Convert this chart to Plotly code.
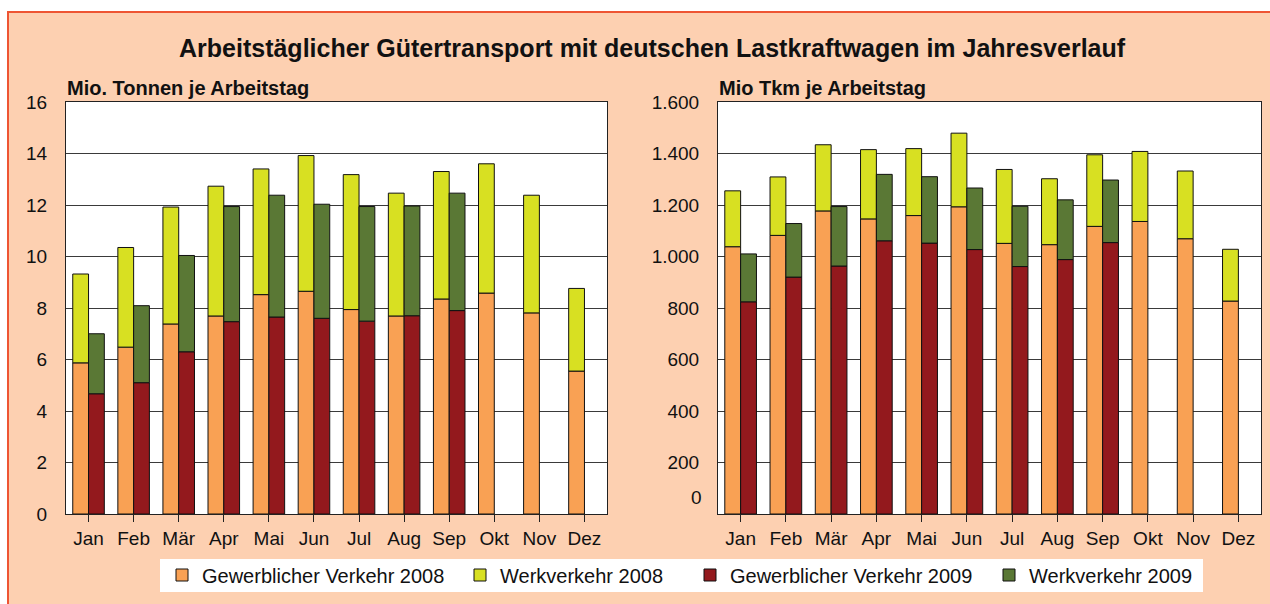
import plotly.graph_objects as go

months = ["Jan", "Feb", "Mär", "Apr", "Mai", "Jun", "Jul", "Aug", "Sep", "Okt", "Nov", "Dez"]
months_2009 = months[:9]

# Mio. Tonnen je Arbeitstag
t_gew_2008 = [5.87, 6.48, 7.38, 7.69, 8.52, 8.65, 7.94, 7.69, 8.35, 8.58, 7.81, 5.55]
t_werk_2008 = [3.45, 3.87, 4.54, 5.04, 4.88, 5.27, 5.24, 4.77, 4.95, 5.02, 4.57, 3.21]
t_gew_2009 = [4.67, 5.10, 6.30, 7.47, 7.65, 7.60, 7.49, 7.70, 7.90]
t_werk_2009 = [2.33, 2.99, 3.74, 4.47, 4.73, 4.43, 4.45, 4.26, 4.56]

# Mio Tkm je Arbeitstag
k_gew_2008 = [1038, 1082, 1177, 1146, 1159, 1193, 1051, 1046, 1117, 1136, 1069, 827]
k_werk_2008 = [217, 227, 257, 269, 260, 286, 287, 256, 278, 272, 263, 201]
k_gew_2009 = [824, 920, 963, 1061, 1052, 1027, 961, 988, 1054]
k_werk_2009 = [186, 208, 231, 258, 258, 239, 234, 232, 243]

names = ["Gewerblicher Verkehr 2008", "Werkverkehr 2008",
         "Gewerblicher Verkehr 2009", "Werkverkehr 2009"]
colors = ["#F9A154", "#D8E022", "#93191D", "#5A7835"]

title_text = "Arbeitstäglicher Gütertransport mit deutschen Lastkraftwagen im Jahresverlauf"
sub_left = "Mio. Tonnen je Arbeitstag"
sub_right = "Mio Tkm je Arbeitstag"

W, H = 1270, 604
FONT = "Liberation Sans, Arial, sans-serif"
PEACH = "#FDD0B1"


def px_x(p):
    return p / W


def px_y(p):
    return 1 - p / H


legend_ids = ["legend", "legend2", "legend3", "legend4"]
legend_x = [162, 460, 690, 989]

fig = go.Figure()


def add_chart(xa, ya, g08, w08, g09, w09, show):
    sets = [
        (months, g08, None, "a", 0),
        (months, w08, g08, "a", 1),
        (months_2009, g09, None, "b", 2),
        (months_2009, w09, g09, "b", 3),
    ]
    for xs, ys, base, grp, k in sets:
        fig.add_trace(go.Bar(
            x=xs, y=ys, base=base, offsetgroup=grp, name=names[k],
            legendgroup=names[k], showlegend=show, legend=legend_ids[k],
            marker=dict(color=colors[k], line=dict(color="#111111", width=1)),
            xaxis=xa, yaxis=ya,
        ))


add_chart("x", "y", t_gew_2008, t_werk_2008, t_gew_2009, t_werk_2009, True)
add_chart("x2", "y2", k_gew_2008, k_werk_2008, k_gew_2009, k_werk_2009, False)

xcommon = dict(type="category", categoryorder="array", categoryarray=months,
               ticks="outside", ticklen=7, tickcolor="#222", tickwidth=1,
               showline=True, linecolor="#222", linewidth=1, mirror=True,
               showgrid=False, tickfont=dict(family=FONT, size=19, color="#111"),
               automargin=False, fixedrange=True)
ycommon = dict(showline=True, linecolor="#222", linewidth=1, mirror=True,
               showgrid=True, gridcolor="#3a3a3a", gridwidth=1, zeroline=False,
               ticks="", tickfont=dict(family=FONT, size=19, color="#111"),
               ticklabelstandoff=14, automargin=False, fixedrange=True)

ydom = [px_y(514), px_y(102)]
fig.update_layout(
    xaxis=dict(domain=[px_x(66), px_x(607)], anchor="y", **xcommon),
    yaxis=dict(domain=ydom, anchor="x", range=[0, 16], dtick=2, **ycommon),
    xaxis2=dict(domain=[px_x(718), px_x(1261)], anchor="y2", **xcommon),
    yaxis2=dict(domain=ydom, anchor="x2", range=[0, 1600],
                tickvals=[0, 200, 400, 600, 800, 1000, 1200, 1400, 1600],
                ticktext=["", "200", "400", "600", "800", "1.000", "1.200", "1.400", "1.600"],
                **ycommon),
)

legends = {}
for lid, lx in zip(legend_ids, legend_x):
    legends[lid] = dict(orientation="h", x=px_x(lx), xanchor="left",
                        y=px_y(575), yanchor="middle", bgcolor="rgba(0,0,0,0)",
                        font=dict(family=FONT, size=20, color="#111"))

fig.update_layout(
    width=W, height=H,
    margin=dict(l=0, r=0, t=0, b=0, pad=0, autoexpand=False),
    paper_bgcolor=PEACH, plot_bgcolor="white",
    barmode="group", bargap=0.30, bargroupgap=0,
    separators=",.",
    font=dict(family=FONT, color="#111"),
    showlegend=True,
    **legends,
    shapes=[
        dict(type="rect", xref="paper", yref="paper", x0=0, x1=1,
             y0=px_y(12), y1=1, fillcolor="white", line=dict(width=0), layer="above"),
        dict(type="rect", xref="paper", yref="paper", x0=0, x1=px_x(8),
             y0=0, y1=1, fillcolor="white", line=dict(width=0), layer="above"),
        dict(type="rect", xref="paper", yref="paper", x0=px_x(8), x1=1.01,
             y0=-0.01, y1=px_y(12), fillcolor="rgba(0,0,0,0)",
             line=dict(color="#EE5533", width=2), layer="above"),
        dict(type="rect", xref="paper", yref="paper", x0=px_x(160), x1=px_x(1203),
             y0=px_y(592), y1=px_y(559), fillcolor="white",
             line=dict(width=0), layer="above"),
    ],
    annotations=[
        dict(text="<b>" + title_text + "</b>", xref="paper", yref="paper",
             x=px_x(652), y=px_y(48), xanchor="center", yanchor="middle",
             showarrow=False, font=dict(family=FONT, size=25, color="#111")),
        dict(text="<b>" + sub_left + "</b>", xref="paper", yref="paper",
             x=px_x(65), y=px_y(88), xanchor="left", yanchor="middle",
             showarrow=False, font=dict(family=FONT, size=20, color="#111")),
        dict(text="<b>" + sub_right + "</b>", xref="paper", yref="paper",
             x=px_x(717), y=px_y(88), xanchor="left", yanchor="middle",
             showarrow=False, font=dict(family=FONT, size=20, color="#111")),
        dict(text="0", xref="paper", yref="paper",
             x=px_x(704), y=px_y(497), xanchor="right", yanchor="middle",
             showarrow=False, font=dict(family=FONT, size=19, color="#111")),
    ],
)

fig.write_html("out.html", config={"displayModeBar": False},
               post_script="document.body.style.margin='0';document.body.style.overflow='hidden';")
